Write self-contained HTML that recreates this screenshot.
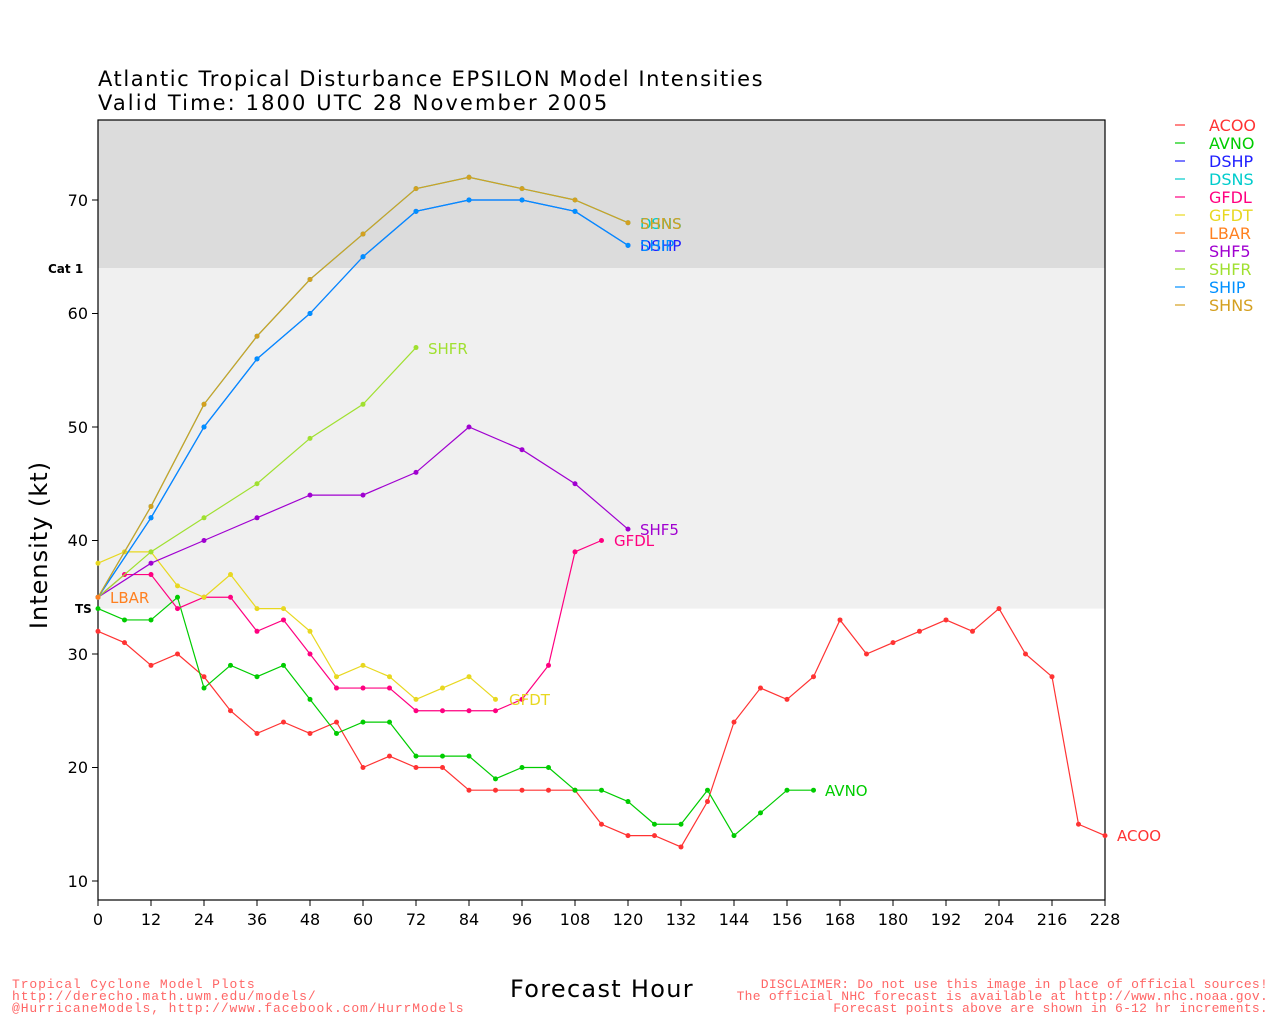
<!DOCTYPE html>
<html><head><meta charset="utf-8">
<style>
html,body{margin:0;padding:0;background:#fff;}
svg{display:block;font-family:"DejaVu Sans","Liberation Sans",sans-serif;}
</style></head><body>
<svg id="s" width="1280" height="1024" viewBox="0 0 1280 1024" xmlns="http://www.w3.org/2000/svg">
<rect x="0" y="0" width="1280" height="1024" fill="#fff"/>
<rect x="98" y="120" width="1007" height="148" fill="#dcdcdc"/>
<rect x="98" y="268" width="1007" height="340.6" fill="#f0f0f0"/>
<rect x="98" y="120" width="1007" height="780" fill="none" stroke="#000" stroke-width="1.2"/>
<text x="98" y="86" font-size="21" fill="#000" letter-spacing="1.55">Atlantic Tropical Disturbance EPSILON Model Intensities</text>
<text x="98" y="110" font-size="21" fill="#000" letter-spacing="2.1">Valid Time: 1800 UTC 28 November 2005</text>
<g font-size="16" fill="#000" text-anchor="end">
<text x="88" y="887">10</text><text x="88" y="773">20</text><text x="88" y="660">30</text>
<text x="88" y="546">40</text><text x="88" y="433">50</text><text x="88" y="319">60</text><text x="88" y="206">70</text>
</g>
<g font-size="12" font-weight="bold" fill="#000">
<text x="48" y="273">Cat 1</text><text x="75" y="613">TS</text>
</g>
<g stroke="#000" stroke-width="1">
<line x1="92" y1="881" x2="98" y2="881"/><line x1="92" y1="767.5" x2="98" y2="767.5"/><line x1="92" y1="654" x2="98" y2="654"/>
<line x1="92" y1="540.5" x2="98" y2="540.5"/><line x1="92" y1="427" x2="98" y2="427"/><line x1="92" y1="313.5" x2="98" y2="313.5"/><line x1="92" y1="200" x2="98" y2="200"/>
</g>
<g id="xt" stroke="#000" stroke-width="1"></g>
<g font-size="16" fill="#000" text-anchor="middle">
<text x="98" y="925">0</text><text x="151" y="925">12</text><text x="204" y="925">24</text><text x="257" y="925">36</text>
<text x="310" y="925">48</text><text x="363" y="925">60</text><text x="416" y="925">72</text><text x="469" y="925">84</text>
<text x="522" y="925">96</text><text x="575" y="925">108</text><text x="628" y="925">120</text><text x="681" y="925">132</text>
<text x="734" y="925">144</text><text x="787" y="925">156</text><text x="840" y="925">168</text><text x="893" y="925">180</text>
<text x="946" y="925">192</text><text x="999" y="925">204</text><text x="1052" y="925">216</text><text x="1105" y="925">228</text>
</g>
<text x="510" y="997" font-size="24" fill="#000" letter-spacing="1.3">Forecast Hour</text>
<text transform="translate(47,545) rotate(-90)" font-size="24" fill="#000" text-anchor="middle" letter-spacing="1">Intensity (kt)</text>
<g id="series"></g>
<g font-size="15">
<text x="1117" y="841" fill="#ff3333">ACOO</text>
<text x="825" y="796" fill="#00cc00">AVNO</text>
<text x="614" y="546" fill="#ff0080">GFDL</text>
<text x="509" y="705" fill="#e8d820">GFDT</text>
<text x="110" y="603" fill="#ff8020">LBAR</text>
<text x="640" y="535" fill="#a000d0">SHF5</text>
<text x="428" y="354" fill="#a0e030">SHFR</text>
<text x="640" y="251" fill="#2020ff">DSHP</text>
<text x="640" y="251" fill="#0090ff">SHIP</text>
<text x="640" y="229" fill="#00cccc">DSNS</text>
<text x="640" y="229" fill="#d4a020">SHNS</text>
</g>
<g font-size="16">
<text x="1209" y="131" fill="#ff3333">ACOO</text>
<text x="1209" y="149" fill="#00cc00">AVNO</text>
<text x="1209" y="167" fill="#2020ff">DSHP</text>
<text x="1209" y="185" fill="#00cccc">DSNS</text>
<text x="1209" y="203" fill="#ff0080">GFDL</text>
<text x="1209" y="221" fill="#e8d820">GFDT</text>
<text x="1209" y="239" fill="#ff8020">LBAR</text>
<text x="1209" y="257" fill="#a000d0">SHF5</text>
<text x="1209" y="275" fill="#a0e030">SHFR</text>
<text x="1209" y="293" fill="#0090ff">SHIP</text>
<text x="1209" y="311" fill="#d4a020">SHNS</text>
</g>
<g stroke-width="1.2">
<line x1="1175" y1="125" x2="1185" y2="125" stroke="#ff3333"/>
<line x1="1175" y1="143" x2="1185" y2="143" stroke="#00cc00"/>
<line x1="1175" y1="161" x2="1185" y2="161" stroke="#2020ff"/>
<line x1="1175" y1="179" x2="1185" y2="179" stroke="#00cccc"/>
<line x1="1175" y1="197" x2="1185" y2="197" stroke="#ff0080"/>
<line x1="1175" y1="215" x2="1185" y2="215" stroke="#e8d820"/>
<line x1="1175" y1="233" x2="1185" y2="233" stroke="#ff8020"/>
<line x1="1175" y1="251" x2="1185" y2="251" stroke="#a000d0"/>
<line x1="1175" y1="269" x2="1185" y2="269" stroke="#a0e030"/>
<line x1="1175" y1="287" x2="1185" y2="287" stroke="#0090ff"/>
<line x1="1175" y1="305" x2="1185" y2="305" stroke="#d4a020"/>
</g>
<g font-family="'Liberation Mono','DejaVu Sans Mono',monospace" font-size="13" fill="#ff6666">
<text x="12" y="988" letter-spacing="0.9">Tropical Cyclone Model Plots</text>
<text x="12" y="1000" letter-spacing="0.9">http://derecho.math.uwm.edu/models/</text>
<text x="12" y="1012" letter-spacing="0.9">@HurricaneModels, http://www.facebook.com/HurrModels</text>
<text x="1268" y="988" text-anchor="end" letter-spacing="0.25">DISCLAIMER: Do not use this image in place of official sources!</text>
<text x="1268" y="1000" text-anchor="end" letter-spacing="0.25">The official NHC forecast is available at http://www.nhc.noaa.gov.</text>
<text x="1268" y="1012" text-anchor="end" letter-spacing="0.25">Forecast points above are shown in 6-12 hr increments.</text>
</g>
</svg>
<script>
var NS="http://www.w3.org/2000/svg";
function X(h){return 98+h*1007/228;}
function Y(v){return 881-(v-10)*11.35;}
var xt=document.getElementById("xt");
for(var h=0;h<=228;h+=12){var l=document.createElementNS(NS,"line");l.setAttribute("x1",X(h));l.setAttribute("x2",X(h));l.setAttribute("y1",900);l.setAttribute("y2",906);xt.appendChild(l);}
function six(a){return a.map(function(v,i){return [i*6,v];});}
function tw(a){return a.map(function(v,i){return [i*12,v];});}
var S=[
["#ff3333",six([32,31,29,30,28,25,23,24,23,24,20,21,20,20,18,18,18,18,18,15,14,14,13,17,24,27,26,28,33,30,31,32,33,32,34,30,28,15,14])],
["#00cc00",six([34,33,33,35,27,29,28,29,26,23,24,24,21,21,21,19,20,20,18,18,17,15,15,18,14,16,18,18])],
["#ff0080",six([35,37,37,34,35,35,32,33,30,27,27,27,25,25,25,25,26,29,39,40])],
["#e8d820",six([38,39,39,36,35,37,34,34,32,28,29,28,26,27,28,26])],
["#a000d0",tw([35,38,40,42,44,44,46,50,48,45,41])],
["#a0e030",tw([35,39,42,45,49,52,57])],
["#2020ff",tw([35,42,50,56,60,65,69,70,70,69,66])],
["#0090ff",tw([35,42,50,56,60,65,69,70,70,69,66])],
["#00cccc",tw([35,43,52,58,63,67,71,72,71,70,68])],
["#d4a020",tw([35,43,52,58,63,67,71,72,71,70,68])],
["#ff8020",[[0,35]]]
];
var g=document.getElementById("series");
S.forEach(function(s){
 var p=document.createElementNS(NS,"polyline");
 p.setAttribute("points",s[1].map(function(q){return X(q[0])+","+Y(q[1]);}).join(" "));
 p.setAttribute("fill","none");p.setAttribute("stroke",s[0]);p.setAttribute("stroke-width","1.2");g.appendChild(p);
 s[1].forEach(function(q){var c=document.createElementNS(NS,"circle");c.setAttribute("cx",X(q[0]));c.setAttribute("cy",Y(q[1]));c.setAttribute("r","2.5");c.setAttribute("fill",s[0]);g.appendChild(c);});
});
</script>
</body></html>
